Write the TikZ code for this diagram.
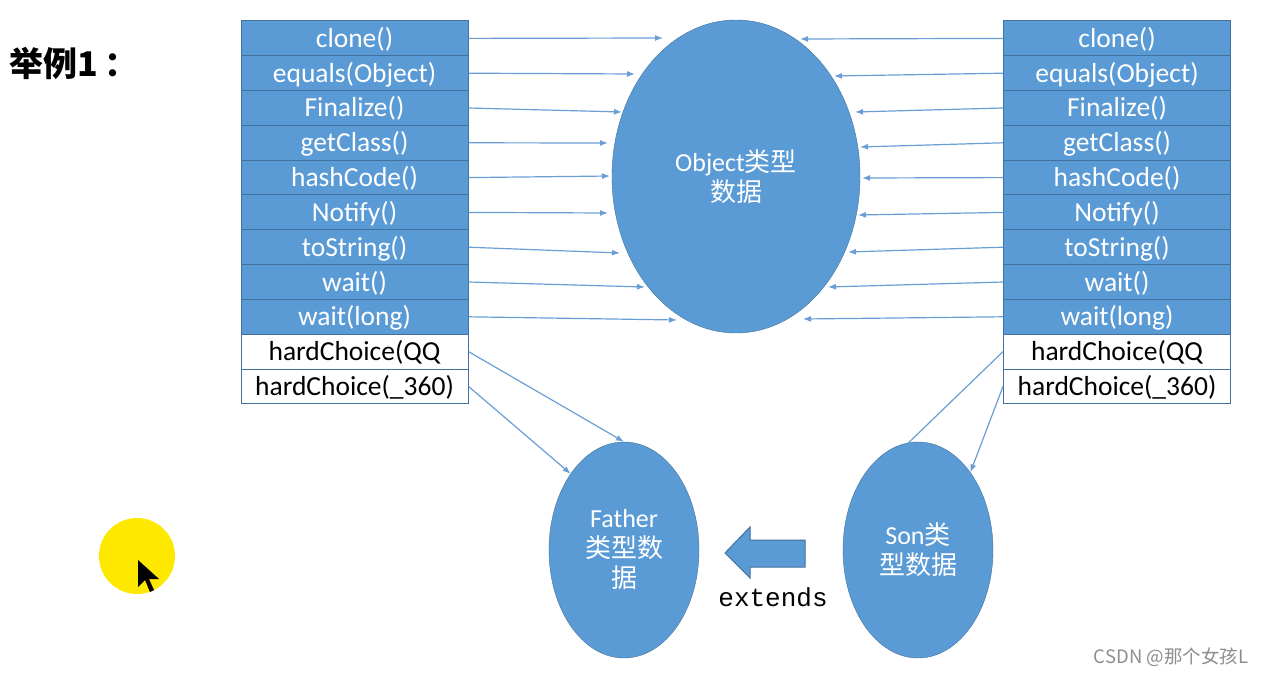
\documentclass[tikz,border=0pt]{standalone}
\usepackage{fontspec}
\setmainfont{Carlito}
\newfontfamily\cjk{Noto Sans CJK SC}
\newfontfamily\mono{Liberation Mono}
\usetikzlibrary{shapes.geometric,arrows.meta}
\definecolor{boxblue}{HTML}{5B9BD5}
\definecolor{boxline}{HTML}{41719C}
\definecolor{linkblue}{HTML}{6A9FD6}
\definecolor{spot}{HTML}{FFE800}
\definecolor{markgray}{HTML}{8E8E8E}

\begin{document}
\begin{tikzpicture}[x=1pt,y=-1pt]

        \useasboundingbox (0,0) rectangle (1265,676);
        \fill[white] (0,0) rectangle (1265,676);

        \node (title) at (74,63) {\cjk\bfseries\fontsize{34}{40}\selectfont 举例1\kern6pt：};

        % method rows, left and right
        \begin{scope}[every node/.style={rectangle,draw=boxline,line width=1pt,
            minimum width=227pt,minimum height=34.8pt,inner sep=0pt,
            text height=21pt,text depth=3pt,font=\fontsize{27.5}{32}\selectfont}]
          \foreach \name [count=\i] in {clone(),equals(Object),Finalize(),getClass(),
              hashCode(),Notify(),toString(),wait(),wait(long)} {
            \node[fill=boxblue,text=white] (l\i) at (354.5,{38.4+34.8*(\i-1)}) {\name};
            \node[fill=boxblue,text=white] (r\i) at (1117,{38.4+34.8*(\i-1)}) {\name};
          }
          \node (l10) at (354.5,351.6) {hardChoice(QQ};
          \node (l11) at (354.5,386.4) {hardChoice(\_360)};
          \node (r10) at (1117,351.6) {hardChoice(QQ};
          \node (r11) at (1117,386.4) {hardChoice(\_360)};
        \end{scope}

        \begin{scope}[every node/.style={ellipse,draw=boxline,fill=boxblue,text=white,
            inner sep=0pt,align=center,font=\fontsize{26}{30}\selectfont}]
          \node[minimum width=248pt,minimum height=313pt] (obj) at (736,176.5)
            {Object{\cjk 类型}\\{\cjk 数据}};
          \node[minimum width=150pt,minimum height=216pt] (father) at (624,550)
            {Father\\{\cjk 类型数}\\{\cjk 据}};
          \node[minimum width=150pt,minimum height=216pt] (son) at (918,550)
            {Son{\cjk 类}\\{\cjk 型数据}};
        \end{scope}

        % where the arrows stop at the Object ellipse
        \foreach \x/\y [count=\i] in {663/38,635/74,622/112,608/143,610/176,
            608/213,620/253,645/287,677/320}
          \coordinate (ol\i) at (\x,\y);
        \foreach \x/\y [count=\i] in {800/39,834/76,855/112,860/147,862/178,
            858/215,848/252,828/287,803/319}
          \coordinate (or\i) at (\x,\y);

        \begin{scope}[every edge/.style={draw=linkblue,line width=1.2pt,
            -{Latex[length=8pt,width=6pt]}}]
          \foreach \i in {1,...,9} {
            \path (l\i.east) edge (ol\i);
            \path (r\i.west) edge (or\i);
          }
          \path (l10.east) edge (father.north);
          \path (l11.east) edge (father.125);
          \path (r10.west) edge[-] (son.95);
          \path (r11.west) edge (son.56);
        \end{scope}

        % extends
        \draw[fill=boxblue,draw=boxline,line width=1pt] (805,540) -- (750,540) -- (750,527)
          -- (725,553) -- (750,578) -- (750,567) -- (805,567) -- cycle;
        \node[font=\mono\fontsize{26}{30}\selectfont] (ext) at (773,597) {extends};

        % pointer
        \fill[spot] (137,556) circle (38);
        \fill[black] (138,560) -- ++(0,27) -- ++(7,-7) -- ++(5,12) -- ++(4,-2)
          -- ++(-5,-11) -- ++(10,0) -- cycle;

        \node[text=markgray,font=\cjk\fontsize{18.5}{22}\selectfont] (mark) at (1171,657)
          {CSDN @那个女孩L};

      \end{tikzpicture}
\end{document}
